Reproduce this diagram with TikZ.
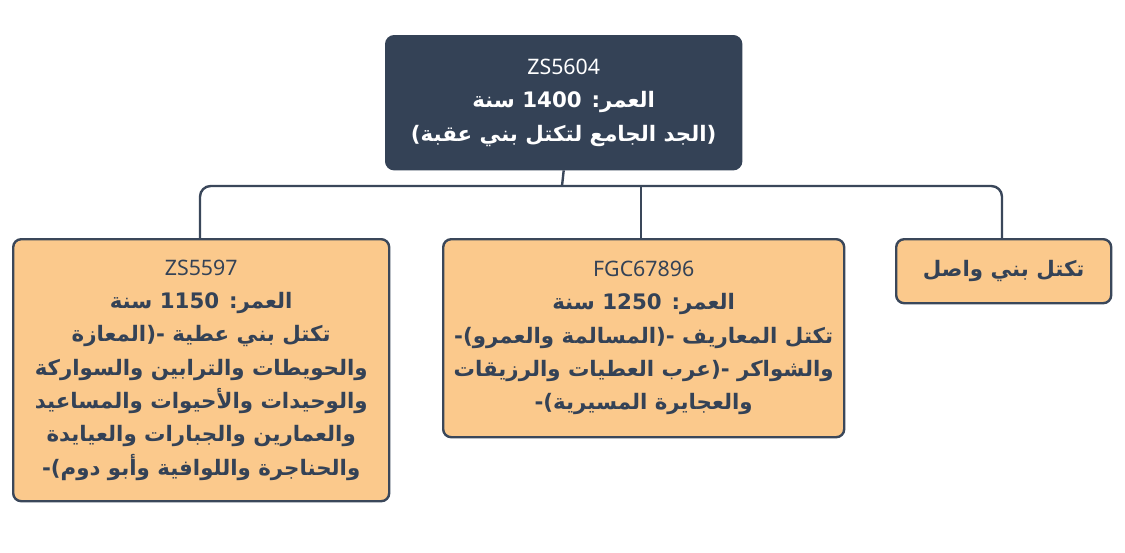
\documentclass[tikz,border=0pt]{standalone}
\usepackage{fontspec}
\setmainfont{Noto Sans}
\newfontfamily\arabicfont[Script=Arabic]{DejaVu Sans}
\TeXXeTstate=1
\definecolor{navy}{HTML}{344256}
\definecolor{edge}{HTML}{3A475A}
\definecolor{peach}{HTML}{FBC98C}
\newcommand{\ar}[1]{{\arabicfont\beginR #1\endR}}
\newcommand{\lt}[1]{\beginL #1\endL{}}
\tikzset{
  box/.style={draw=edge,line width=1.8pt,rounded corners=6pt,fill=peach,text=navy,align=center,font=\bfseries\fontsize{16}{25}\selectfont,anchor=north west,inner sep=0pt},
  conn/.style={draw=edge,line width=1.8pt,rounded corners=8pt}
}
\begin{document}
\begin{tikzpicture}[x=0.75pt,y=-0.75pt]
\useasboundingbox (0,0) rectangle (1125,553);
\node[box,fill=navy,draw=navy,text=white,minimum width=355*0.75pt,minimum height=133*0.75pt] (top) at (385,35)
 {ZS5604\\ \ar{العمر: \lt{1400} سنة}\\ \ar{(الجد الجامع لتكتل بني عقبة)}};
\node[box,minimum width=376*0.75pt,minimum height=262*0.75pt] (l) at (12,238)
 {ZS5597\\ \ar{العمر: \lt{1150} سنة}\\ \ar{تكتل بني عطية -(المعازة}\\ \ar{والحويطات والترابين والسواركة}\\ \ar{والوحيدات والأحيوات والمساعيد}\\ \ar{والعمارين والجبارات والعيايدة}\\ \ar{والحناجرة واللوافية وأبو دوم)-}};
\node[box,minimum width=401*0.75pt,minimum height=198*0.75pt] (m) at (442,238)
 {FGC67896\\ \ar{العمر: \lt{1250} سنة}\\ \ar{تكتل المعاريف -(المسالمة والعمرو)-}\\ \ar{والشواكر -(عرب العطيات والرزيقات}\\ \ar{والعجايرة المسيرية)-}};
\node[box,minimum width=215*0.75pt,minimum height=64*0.75pt] (r) at (895,238)
 {\ar{تكتل بني واصل}};
\coordinate (bus) at (562,186);
\draw[conn] (top.south) -- (bus);
\draw[conn] (l.north -| 200,0) -- (200,186) -- (1002,186) -- (r.north -| 1002,0);
\draw[conn] (641,186) -- (m.north -| 641,0);
\end{tikzpicture}
\end{document}
